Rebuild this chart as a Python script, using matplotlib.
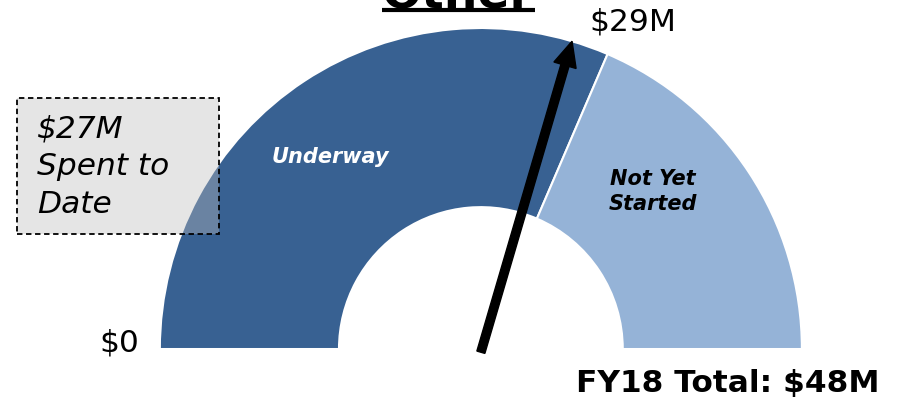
import matplotlib
matplotlib.use('Agg')
import matplotlib.pyplot as plt
import matplotlib.patches as mpatches
import numpy as np

# gauge data ($M)
segments = ['Underway', 'Not Yet\nStarted']
values = [30.2, 17.8]
total = 48
pointer_value = 28.4
pointer_label = '$29M'
spent_text = '$27M\nSpent to\nDate'

colors = ['#386192', '#95B3D7']
plt.rcParams['font.family'] = 'DejaVu Sans'

fig = plt.figure(figsize=(9.03, 4.04), dpi=100)
ax = fig.add_axes([0, 0, 1, 1])

# half donut: add an invisible half below
wedges, _ = ax.pie(values + [total], colors=colors + ['none'], startangle=180,
                   counterclock=False, radius=1.0,
                   wedgeprops=dict(width=0.558, edgecolor='white', linewidth=1.5))
wedges[-1].set_edgecolor('none')

ax.set_xlim(-1.498, 1.315)
ax.set_ylim(-0.171, 1.087)
ax.set_aspect('equal')
ax.axis('off')

# segment labels
ax.text(-0.47, 0.598, segments[0], color='white', fontsize=15, fontweight='bold',
        style='italic', ha='center', va='center')
ax.text(0.536, 0.49, segments[1], color='black', fontsize=15, fontweight='bold',
        style='italic', ha='center', va='center', linespacing=1.3)

# pointer
ang = np.pi * (1 - pointer_value / total)
L = 1.0
ax.arrow(0, -0.01, L * np.cos(ang), L * np.sin(ang) + 0.01, width=0.026,
         head_width=0.072, head_length=0.078, length_includes_head=True,
         color='black', zorder=4)

ax.text(0.474, 1.019, pointer_label, fontsize=22.5, ha='center', va='center')
ax.text(-1.125, 0.019, '$0', fontsize=22.5, ha='center', va='center')
ax.text(0.769, -0.106, 'FY18 Total: $' + str(total) + 'M', fontsize=22.5,
        fontweight='bold', ha='center', va='center')

# spent-to-date box
box = mpatches.Rectangle((-1.445, 0.358), 0.629, 0.424, facecolor=(0.74, 0.74, 0.74),
                         alpha=0.38, edgecolor='none', zorder=5)
ax.add_patch(box)
ax.add_patch(mpatches.Rectangle((-1.445, 0.358), 0.629, 0.424, facecolor='none',
                                edgecolor='black', linestyle=(0, (3, 2)), lw=1.3, zorder=6))
ax.text(-1.383, 0.569, spent_text, fontsize=22.5, style='italic', ha='left', va='center',
        linespacing=1.38, zorder=7)

# title (cut off at top) with underline
ax.text(-0.072, 1.065, 'Other', fontsize=34, fontweight='bold', ha='center',
        va='baseline', zorder=7)
ax.plot([-0.308, 0.168], [1.056, 1.056], color='black', lw=3, solid_capstyle='butt')

fig.savefig('out.png', dpi=100)
